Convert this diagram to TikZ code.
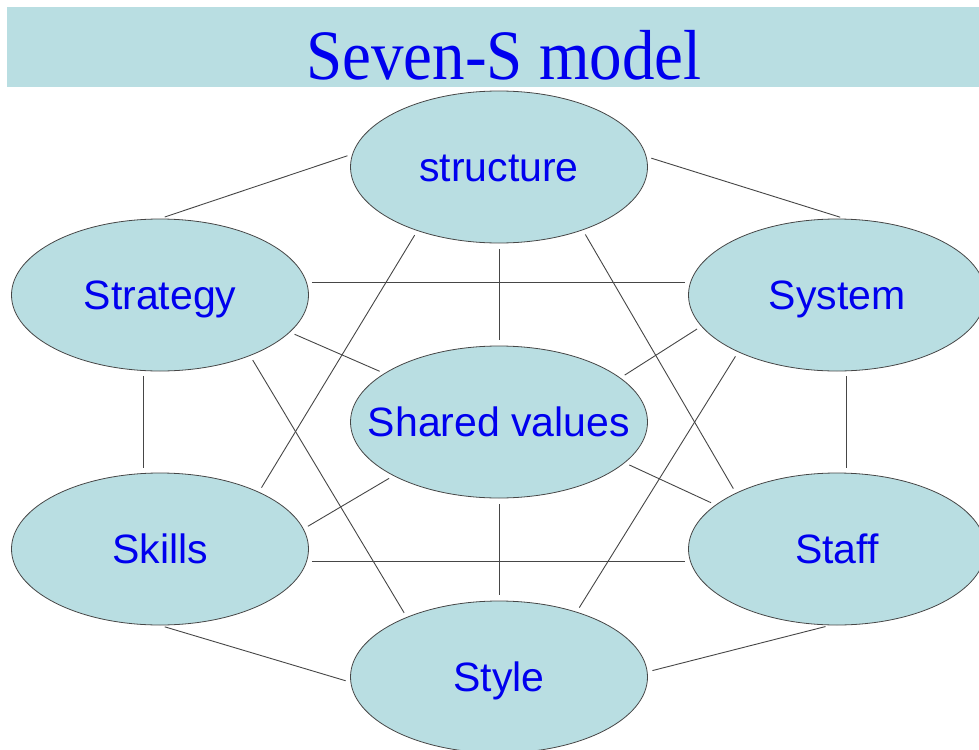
\documentclass[tikz,border=0pt]{standalone}
\usepackage{fontspec}
\setmainfont{Liberation Sans}
\newfontfamily\titlefont{Liberation Serif}
\usetikzlibrary{shapes.geometric}
\definecolor{sfill}{RGB}{185,222,226}
\definecolor{sblue}{RGB}{0,0,238}
\definecolor{sline}{RGB}{70,70,70}
\begin{document}
\begin{tikzpicture}[x=1pt,y=-1pt,
  sbox/.style={ellipse, draw=sline, line width=0.8pt, fill=sfill,
    minimum width=297pt, minimum height=152pt, inner sep=0pt,
    text=sblue, font=\fontsize{41}{49}\selectfont,
    text height=29.4pt, text depth=0pt},
  link/.style={draw=sline, line width=0.9pt, shorten <=5pt, shorten >=5pt},
  titletext/.style={anchor=base, inner sep=0pt, text=sblue,
    font=\titlefont\fontsize{65}{70}\selectfont}]
\useasboundingbox (0,0) rectangle (979,749);
\fill[sfill] (7,7) rectangle (979,87);
\node[titletext] (title) at (504,80) {\scalebox{1}[1.09]{Seven-S model}};

\node[sbox] (structure) at (499,167) {structure};
\node[sbox] (strategy)  at (160,295) {Strategy};
\node[sbox] (system)    at (837,295) {System};
\node[sbox] (shared)    at (499,422) {\makebox[0pt]{Shared values}};
\node[sbox] (skills)    at (160,549) {Skills};
\node[sbox] (staff)     at (837,549) {Staff};
\node[sbox] (style)     at (499,677) {Style};

\draw[link] (structure.175) -- (strategy.north);
\draw[link] (structure.4) -- (system.84);
\draw[link,shorten <=6pt,shorten >=6pt] (structure.south) -- (shared.north);
\draw[link] (structure.218) -- (skills.30);
\draw[link] (structure.323) -- (staff.151);
\draw[link] (strategy.5) -- (system.175);
\draw[link] (strategy.344) -- (shared.157);
\draw[link] (strategy.258) -- (skills.102);
\draw[link] (strategy.326) -- (style.147);
\draw[link] (system.193) -- (shared.20);
\draw[link] (system.277) -- (staff.83);
\draw[link] (system.210) -- (style.40);
\draw[link] (shared.207) -- (skills.8);
\draw[link] (shared.342) -- (staff.160);
\draw[link,shorten <=6pt,shorten >=6pt] (shared.south) -- (style.north);
\draw[link] (skills.355) -- (staff.185);
\draw[link] (skills.south) -- (style.182);
\draw[link] (staff.265) -- (style.2);
\end{tikzpicture}
\end{document}
